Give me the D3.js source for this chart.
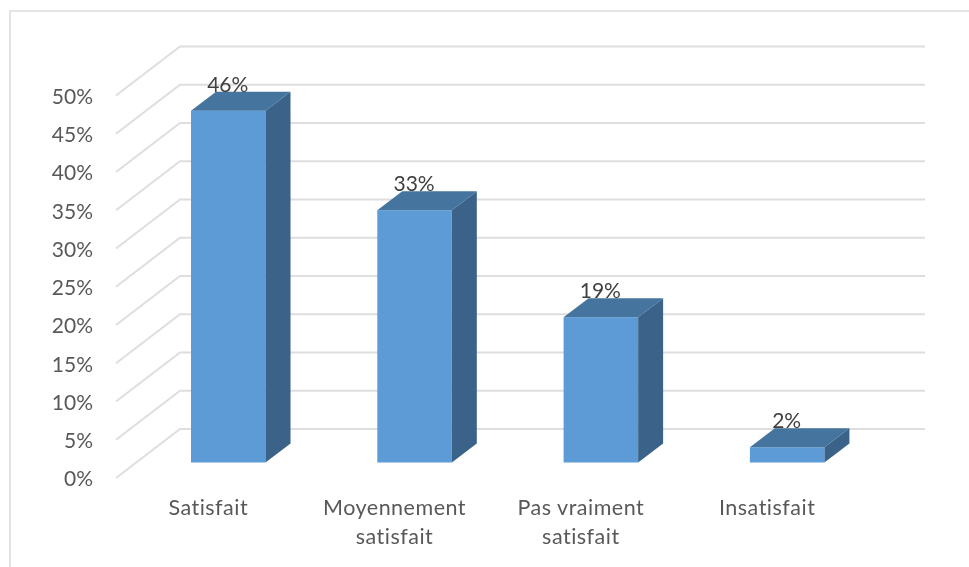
<!DOCTYPE html>
<html><head><meta charset="utf-8">
<script src="https://cdn.jsdelivr.net/npm/d3@7"></script>
<style>html,body{margin:0;background:#fff}svg{display:block}text{font-family:"Lato",sans-serif;font-variant-ligatures:none}</style>
</head><body><svg id="c" width="969" height="567"></svg>
<script>
const categories=[["Satisfait"],["Moyennement","satisfait"],["Pas vraiment","satisfait"],["Insatisfait"]];
const values=[46,33,19,2];
const valueLabels=["46%","33%","19%","2%"];
const ticks=[0,5,10,15,20,25,30,35,40,45,50];

const svg=d3.select("#c");
const defs=svg.append("defs");
defs.append("filter").attr("id","soft").append("feGaussianBlur").attr("stdDeviation",0.6);
defs.append("filter").attr("id","softText").append("feGaussianBlur").attr("stdDeviation",0.3);
svg.append("path").attr("d","M10,567V11H969").attr("fill","none").attr("stroke","#dcdcdc").attr("stroke-width",1.5);

const y=d3.scaleLinear().domain([0,50]).range([478,95.5]);
const x=d3.scaleBand().domain(d3.range(categories.length)).paddingInner(0.6).paddingOuter(0.3)
 .range([191-186.3*0.3,191-186.3*0.3+186.3*4]);
const depth={dx:64,dy:-49};
const barDepth={dx:25,dy:-19};
const barLift=15.4;
const wallLeft=116, wallRight=925;

const g=svg.append("g").attr("filter","url(#soft)");
g.selectAll("path.grid").data(ticks).join("path").attr("class","grid")
 .attr("d",t=>`M${wallLeft},${y(t)}L${wallLeft+depth.dx},${y(t)+depth.dy}H${wallRight}`)
 .attr("fill","none").attr("stroke","#dedede").attr("stroke-width",2);

const pts=a=>a.map(p=>p.join(",")).join(" ");
const bars=g.selectAll("g.bar").data(values).join("g").attr("class","bar");
const geom=(v,i)=>{const l=x(i),r=l+x.bandwidth(),b=y(0)-barLift,t=y(v)-barLift;return{l,r,b,t};};
bars.append("polygon").attr("fill","#5b9bd5").attr("points",(v,i)=>{const q=geom(v,i);return pts([[q.l,q.b],[q.r,q.b],[q.r,q.t],[q.l,q.t]]);});
bars.append("polygon").attr("fill","#44749f").attr("points",(v,i)=>{const q=geom(v,i);return pts([[q.l,q.t],[q.r,q.t],[q.r+barDepth.dx,q.t+barDepth.dy],[q.l+barDepth.dx,q.t+barDepth.dy]]);});
bars.append("polygon").attr("fill","#3b6489").attr("points",(v,i)=>{const q=geom(v,i);return pts([[q.r,q.b],[q.r,q.t],[q.r+barDepth.dx,q.t+barDepth.dy],[q.r+barDepth.dx,q.b+barDepth.dy]]);});

const tg=svg.append("g").attr("filter","url(#softText)");
tg.selectAll("text.tick").data(ticks).join("text").attr("class","tick")
 .attr("x",93).attr("y",t=>y(t)+0.7).attr("dy","0.36em").attr("text-anchor","end")
 .attr("font-size",21).attr("fill","#595959").text(t=>t+"%");

tg.selectAll("text.val").data(values).join("text").attr("class","val")
 .attr("x",(v,i)=>x(i)+x.bandwidth()/2-0.5).attr("y",(v,i)=>geom(v,i).t-19).attr("text-anchor","middle")
 .attr("font-size",21).attr("fill","#404040").text((v,i)=>valueLabels[i]);

const cat=tg.selectAll("text.cat").data(categories).join("text").attr("class","cat")
 .attr("x",(c,i)=>x(i)+x.bandwidth()/2-20).attr("y",515).attr("text-anchor","middle")
 .attr("font-size",21.5).attr("letter-spacing",0.5).attr("fill","#595959");
cat.selectAll("tspan").data(d=>d).join("tspan").attr("x",function(){return d3.select(this.parentNode).attr("x");})
 .attr("dy",(d,i)=>i?29:0).text(d=>d);
</script></body></html>
